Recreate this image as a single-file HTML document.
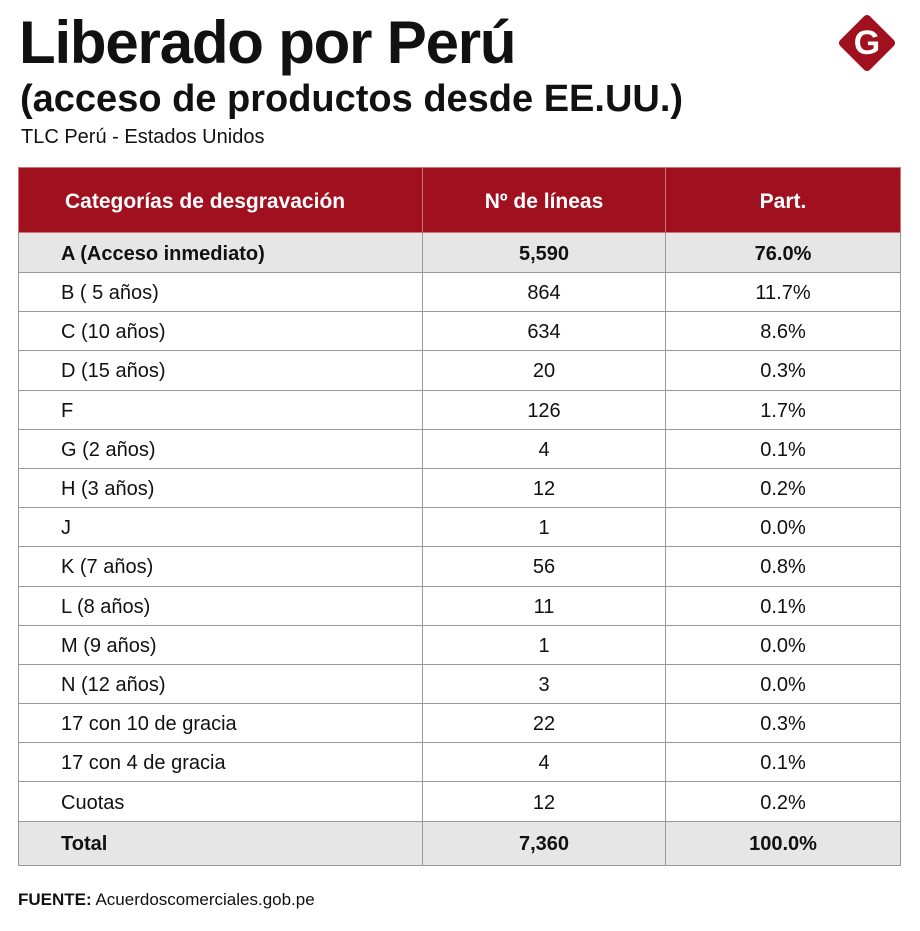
<!DOCTYPE html>
<html><head><meta charset="utf-8"><style>
body{margin:0;width:920px;height:931px;background:#fff;font-family:"Liberation Sans",sans-serif;position:relative;overflow:hidden;color:#111}
h1{position:absolute;left:19px;top:11px;margin:0;font-size:60px;font-weight:bold;letter-spacing:-1.2px;line-height:64px;white-space:nowrap}
h2{position:absolute;left:20px;top:77px;margin:0;font-size:38px;font-weight:bold;letter-spacing:0px;line-height:44px;white-space:nowrap}
.sub{position:absolute;left:21px;top:126px;font-size:20px}
table{position:absolute;left:18px;top:167px;width:883px;border-collapse:collapse;font-size:20px}
td,th{border:1px solid #999;padding:3px 0 0 0;text-align:center}
th{background:#a0101e;color:#fff;height:60px;font-size:21px;border-color:#c77;padding-top:4px}
td:first-child{text-align:left;padding-left:42px}
th:first-child{text-align:left;padding-left:46px}
tr.r td{height:35.2px}
tr.hl td{background:#e6e6e6;font-weight:bold;height:36px}
tr.tot td{background:#e6e6e6;font-weight:bold;height:40px}
.src{position:absolute;left:18px;top:890px;font-size:17px}
.logo{position:absolute;left:846px;top:22px;width:42px;height:42px;background:#a0101e;transform:rotate(45deg);border-radius:4px}
.lg{position:absolute;left:846px;top:22px;width:42px;height:42px;color:#fff;font-weight:bold;font-size:34px;text-align:center;line-height:42px}
</style></head><body>
<h1>Liberado por Perú</h1>
<h2>(acceso de productos desde EE.UU.)</h2>
<div class="sub">TLC Perú - Estados Unidos</div>
<div class="logo"></div><div class="lg">G</div>
<table>
<tr><th style="width:357px">Categorías de desgravación</th><th style="width:242px">Nº de líneas</th><th>Part.</th></tr>
<tr class="hl"><td>A (Acceso inmediato)</td><td>5,590</td><td>76.0%</td></tr>
<tr class="r"><td>B ( 5 años)</td><td>864</td><td>11.7%</td></tr>
<tr class="r"><td>C (10 años)</td><td>634</td><td>8.6%</td></tr>
<tr class="r"><td>D (15 años)</td><td>20</td><td>0.3%</td></tr>
<tr class="r"><td>F</td><td>126</td><td>1.7%</td></tr>
<tr class="r"><td>G (2 años)</td><td>4</td><td>0.1%</td></tr>
<tr class="r"><td>H (3 años)</td><td>12</td><td>0.2%</td></tr>
<tr class="r"><td>J</td><td>1</td><td>0.0%</td></tr>
<tr class="r"><td>K (7 años)</td><td>56</td><td>0.8%</td></tr>
<tr class="r"><td>L (8 años)</td><td>11</td><td>0.1%</td></tr>
<tr class="r"><td>M (9 años)</td><td>1</td><td>0.0%</td></tr>
<tr class="r"><td>N (12 años)</td><td>3</td><td>0.0%</td></tr>
<tr class="r"><td>17 con 10 de gracia</td><td>22</td><td>0.3%</td></tr>
<tr class="r"><td>17 con 4 de gracia</td><td>4</td><td>0.1%</td></tr>
<tr class="r"><td>Cuotas</td><td>12</td><td>0.2%</td></tr>
<tr class="tot"><td>Total</td><td>7,360</td><td>100.0%</td></tr>
</table>
<div class="src"><b>FUENTE:</b> Acuerdoscomerciales.gob.pe</div>
</body></html>
